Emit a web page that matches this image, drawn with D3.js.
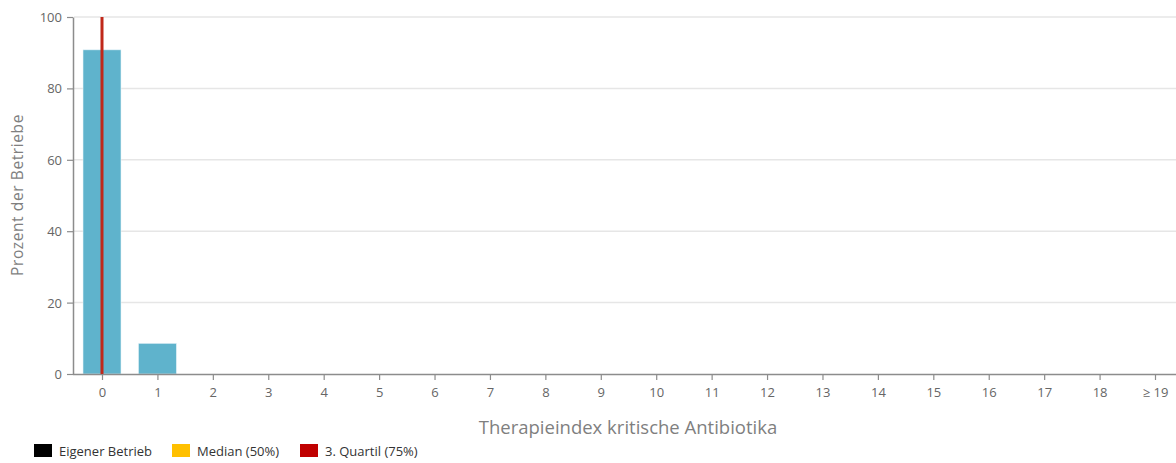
<!DOCTYPE html>
<html><head><meta charset="utf-8">
<script src="https://cdn.jsdelivr.net/npm/d3@7"></script>
<style>
body{margin:0;background:#fff;}
text{font-family:"Open Sans","Noto Sans",sans-serif;}
</style></head><body>
<svg id="chart" width="1176" height="463"></svg>
<script>
const categories = ["0","1","2","3","4","5","6","7","8","9","10","11","12","13","14","15","16","17","18","≥ 19"];
const percentValues = [90.8,8.6,0,0,0,0,0,0,0,0,0,0,0,0,0,0,0,0,0,0];
const yTicks = [0,20,40,60,80,100];
const quartil3Category = "0";
const legendLabels = ["Eigener Betrieb","Median (50%)","3. Quartil (75%)"];
const legendColors = ["#000000","#ffc000","#c00000"];

const svg = d3.select("#chart");
const xc = d3.scalePoint().domain(categories).range([102, 1155]);
const y = d3.scaleLinear().domain([0,100]).range([374,17]);

// grid
svg.append("g").selectAll("line").data(yTicks.filter(d=>d>0)).join("line")
  .attr("x1",74).attr("x2",1176).attr("y1",d=>y(d)).attr("y2",d=>y(d))
  .attr("stroke","#e6e6e6").attr("stroke-width",1.5);

// bars
svg.append("g").selectAll("rect").data(percentValues).join("rect")
  .attr("x",(d,i)=>xc(categories[i])-19).attr("width",38)
  .attr("y",d=>y(d)).attr("height",d=>y(0)-y(d))
  .attr("fill","#5fb3cc").attr("stroke","#e8f4f8").attr("stroke-width",0.6);

// y axis
const ya = svg.append("g").attr("transform","translate(73,0)")
  .call(d3.axisLeft(y).tickValues(yTicks).tickSize(6).tickSizeOuter(0));
ya.select(".domain").attr("stroke","#8c8c8c").attr("stroke-width",1.5);
ya.selectAll(".tick line").attr("stroke","#8c8c8c").attr("stroke-width",1.2);
ya.selectAll(".tick text").attr("fill","#666").attr("font-size",13).attr("x",-11).attr("dy","0.35em");

// x axis
const xa = svg.append("g").attr("transform","translate(0,374)")
  .call(d3.axisBottom(xc).tickSize(6).tickSizeOuter(0));
xa.select(".domain").attr("stroke","#8c8c8c").attr("stroke-width",1.5).attr("d","M73,0.5H1176");
xa.selectAll(".tick line").attr("stroke","#8c8c8c").attr("stroke-width",1.2);
xa.selectAll(".tick text").attr("fill","#666").attr("font-size",13).attr("y",14);

// quartile line
svg.append("line").attr("x1",xc(quartil3Category)).attr("x2",xc(quartil3Category))
  .attr("y1",y(100)).attr("y2",y(0)).attr("stroke","#c0281a").attr("stroke-width",3);

// axis titles
svg.append("text").attr("x",628).attr("y",434).attr("text-anchor","middle")
  .attr("font-size",18.5).attr("fill","#7f7f7f").text("Therapieindex kritische Antibiotika");
svg.append("text").attr("transform","translate(23,195) rotate(-90)").attr("text-anchor","middle")
  .attr("font-size",15.5).attr("letter-spacing",0.6).attr("fill","#7f7f7f").text("Prozent der Betriebe");

// legend
const legX = [34,172,300];
const lg = svg.append("g").selectAll("g").data(legendLabels).join("g")
  .attr("transform",(d,i)=>`translate(${legX[i]},444)`);
lg.append("rect").attr("width",18).attr("height",13).attr("fill",(d,i)=>legendColors[i]);
lg.append("text").attr("x",25).attr("y",11.5).attr("font-size",13).attr("fill","#333").text(d=>d);
</script>
</body></html>
